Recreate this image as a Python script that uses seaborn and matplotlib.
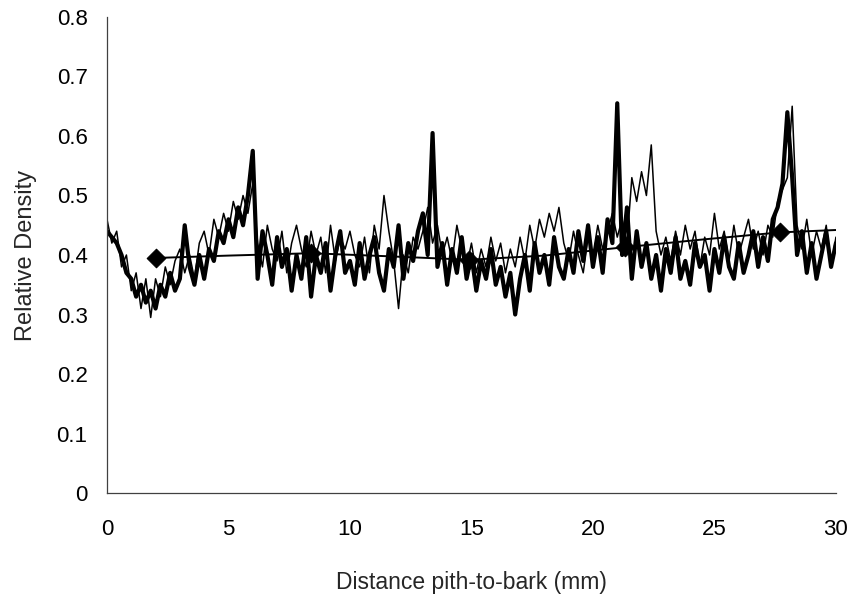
import numpy as np
import pandas as pd
import seaborn as sns
import matplotlib.pyplot as plt

# sampling positions along the radius (mm)
distance = np.round(np.arange(151) * 0.2, 1)

# relative density, sample 1 (heavy line)
thick = [
    0.44, 0.43, 0.42, 0.40, 0.37,
    0.36, 0.33, 0.35, 0.32, 0.34,
    0.31, 0.35, 0.33, 0.37, 0.34,
    0.36, 0.45, 0.38, 0.35, 0.40,
    0.36, 0.41, 0.39, 0.44, 0.42,
    0.46, 0.43, 0.48, 0.45, 0.50,
    0.575, 0.36, 0.44, 0.40, 0.35,
    0.43, 0.38, 0.41, 0.34, 0.40,
    0.36, 0.43, 0.33, 0.40, 0.37,
    0.42, 0.34, 0.40, 0.44, 0.37,
    0.39, 0.35, 0.42, 0.36, 0.40,
    0.43, 0.37, 0.34, 0.41, 0.38,
    0.45, 0.36, 0.42, 0.39, 0.44,
    0.47, 0.40, 0.605, 0.38, 0.42,
    0.35, 0.41, 0.37, 0.43, 0.36,
    0.40, 0.34, 0.39, 0.36, 0.41,
    0.35, 0.38, 0.33, 0.37, 0.30,
    0.36, 0.40, 0.34, 0.42, 0.37,
    0.40, 0.35, 0.43, 0.38, 0.36,
    0.41, 0.37, 0.44, 0.39, 0.45,
    0.38, 0.43, 0.37, 0.46, 0.42,
    0.655, 0.40, 0.48, 0.36, 0.44,
    0.38, 0.42, 0.36, 0.40, 0.34,
    0.41, 0.37, 0.43, 0.36, 0.39,
    0.35, 0.42, 0.38, 0.40, 0.34,
    0.41, 0.37, 0.43, 0.38, 0.36,
    0.42, 0.37, 0.40, 0.44, 0.38,
    0.43, 0.39, 0.46, 0.48, 0.52,
    0.64, 0.53, 0.40, 0.44, 0.37,
    0.42, 0.36, 0.40, 0.44, 0.38,
    0.42,
]

# relative density, sample 2 (thin line)
thin = [
    0.46, 0.42, 0.44, 0.38, 0.40,
    0.34, 0.37, 0.31, 0.36, 0.295,
    0.36, 0.33, 0.38, 0.35, 0.39,
    0.41, 0.37, 0.40, 0.36, 0.42,
    0.44, 0.40, 0.46, 0.43, 0.47,
    0.44, 0.49, 0.46, 0.50, 0.47,
    0.52, 0.42, 0.38, 0.45, 0.41,
    0.39, 0.44, 0.37, 0.42, 0.45,
    0.41, 0.38, 0.44, 0.40, 0.43,
    0.37, 0.45, 0.39, 0.43, 0.41,
    0.44, 0.40, 0.38, 0.43, 0.37,
    0.45, 0.41, 0.50, 0.44, 0.39,
    0.31, 0.40, 0.37, 0.43, 0.41,
    0.44, 0.48, 0.42, 0.45, 0.40,
    0.43, 0.39, 0.45, 0.41, 0.38,
    0.42, 0.37, 0.41, 0.38, 0.43,
    0.39, 0.42, 0.37, 0.41, 0.38,
    0.43, 0.39, 0.45, 0.41, 0.46,
    0.43, 0.47, 0.44, 0.48, 0.42,
    0.39, 0.44, 0.40, 0.37, 0.43,
    0.40, 0.45, 0.41, 0.44, 0.47,
    0.43, 0.46, 0.42, 0.53, 0.49,
    0.54, 0.50, 0.585, 0.44, 0.40,
    0.43, 0.39, 0.44, 0.40, 0.45,
    0.41, 0.44, 0.38, 0.43, 0.40,
    0.47, 0.41, 0.44, 0.39, 0.45,
    0.40, 0.43, 0.46, 0.41, 0.44,
    0.40, 0.45, 0.43, 0.49, 0.51,
    0.53, 0.65, 0.45, 0.41, 0.46,
    0.40, 0.44, 0.41, 0.45, 0.38,
    0.43,
]

# fitted trend and its diamond markers
trend_x = [2.0, 5.0, 8.4, 11.5, 14.9, 18.0, 21.3, 24.5, 27.7, 30.0]
trend_y = [0.395, 0.399, 0.403, 0.398, 0.392, 0.399, 0.413, 0.426, 0.438, 0.442]
diamond_x = [2.0, 8.4, 14.9, 21.3, 27.7]
diamond_y = [0.395, 0.403, 0.392, 0.413, 0.438]

sns.set_style("white")
plt.rcParams['font.family'] = ['Liberation Sans', 'DejaVu Sans']

fig = plt.figure(figsize=(8.51, 5.96), dpi=100)
ax = fig.add_axes([0.1257, 0.1728, 0.8566, 0.7987])

df = pd.DataFrame({'x': distance, 'thick': thick, 'thin': thin})
sns.lineplot(data=df, x='x', y='thin', ax=ax, color='black', linewidth=1.1)
sns.lineplot(data=df, x='x', y='thick', ax=ax, color='black', linewidth=3.0)
sns.lineplot(x=trend_x, y=trend_y, ax=ax, color='black', linewidth=1.4)
sns.scatterplot(x=diamond_x, y=diamond_y, ax=ax, color='black', marker='D',
                s=90, edgecolor='black', zorder=5)

ax.set_xlim(0, 30)
ax.set_ylim(0, 0.8)
ax.set_xticks([0, 5, 10, 15, 20, 25, 30])
ax.set_yticks([0, 0.1, 0.2, 0.3, 0.4, 0.5, 0.6, 0.7, 0.8])
ax.set_yticklabels(['0', '0.1', '0.2', '0.3', '0.4', '0.5', '0.6', '0.7', '0.8'])
ax.set_xlabel('Distance pith-to-bark (mm)', fontsize=16.5, labelpad=22)
ax.set_ylabel('Relative Density', fontsize=17, labelpad=14)

sns.despine(ax=ax)
for s in ['left', 'bottom']:
    ax.spines[s].set_color('#404040')
    ax.spines[s].set_linewidth(0.9)
ax.tick_params(axis='x', direction='in', length=6, width=0.9, colors='#404040',
               labelcolor='black', labelsize=16, pad=19)
ax.tick_params(axis='y', direction='out', length=6, width=0.9, colors='#404040',
               labelcolor='black', labelsize=16, pad=8)
ax.spines['bottom'].set_clip_on(False)

fig.savefig('out.png', dpi=100)
